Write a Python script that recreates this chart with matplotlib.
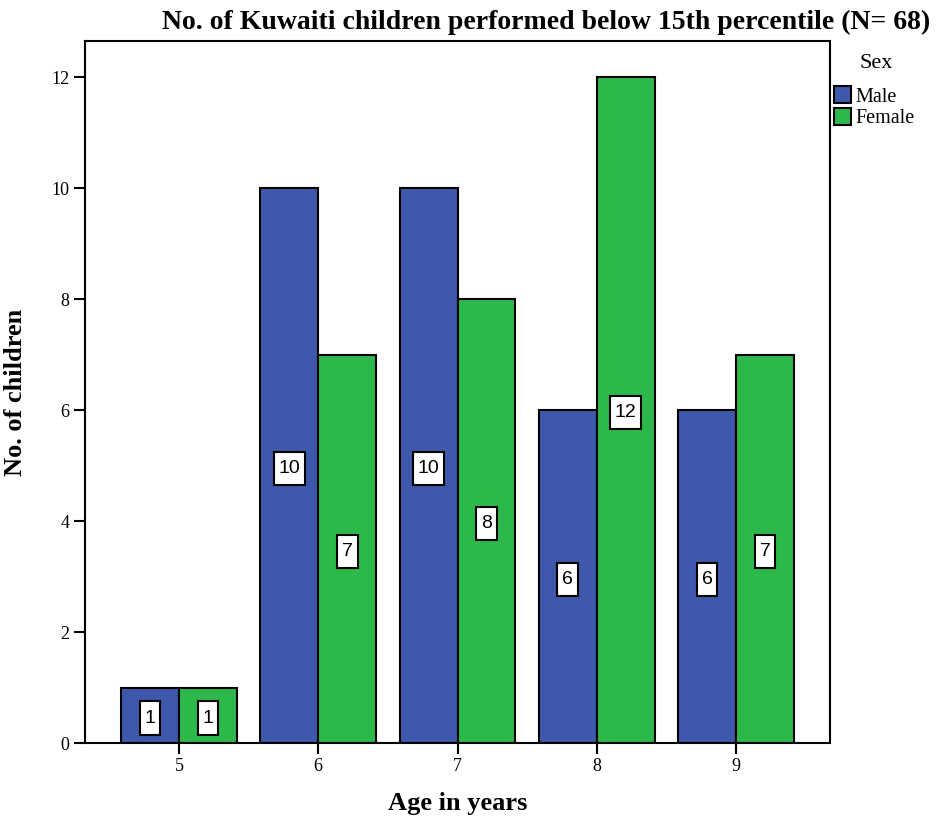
import matplotlib
matplotlib.use("Agg")
import matplotlib.pyplot as plt
import numpy as np
from matplotlib.patches import Patch
from matplotlib.path import Path

ages = [5, 6, 7, 8, 9]
male = [1, 10, 10, 6, 6]
female = [1, 7, 8, 12, 7]

blue = "#3e58ab"
green = "#2db84b"
serif = "Liberation Serif"
sans = "Liberation Sans"


def tall_box(x0, y0, width, height, mutation_size):
    """Rectangular label box with more padding above/below than at the sides."""
    px = 0.25 * mutation_size
    py = 0.42 * mutation_size
    x0, x1 = x0 - px, x0 + width + px
    y0, y1 = y0 - py, y0 + height + py
    return Path([(x0, y0), (x1, y0), (x1, y1), (x0, y1), (x0, y0)], closed=True)


fig = plt.figure(figsize=(9.38, 8.21), dpi=100)
ax = fig.add_axes([85 / 938, 78 / 821, 745 / 938, 702 / 821])

x = np.array(ages, dtype=float)
w = 0.416
bm = ax.bar(x - w / 2, male, width=w, color=blue, edgecolor="black", linewidth=1.5)
bf = ax.bar(x + w / 2, female, width=w, color=green, edgecolor="black", linewidth=1.5)

for bars, vals in ((bm, male), (bf, female)):
    for b, v in zip(bars, vals):
        ax.text(b.get_x() + b.get_width() / 2, v / 2 - 0.05, str(v), ha="center", va="center",
                fontsize=14, family=sans,
                bbox=dict(boxstyle=tall_box, facecolor="white", edgecolor="black", linewidth=1.5))

ax.set_xlim(4.325, 9.675)
ax.set_ylim(0, 12.65)
ax.set_xticks(ages)
ax.set_yticks([0, 2, 4, 6, 8, 10, 12])
for lab in ax.get_xticklabels() + ax.get_yticklabels():
    lab.set_family(serif)
    lab.set_fontsize(13)
ax.tick_params(axis="both", length=8, width=1.5, direction="out", pad=3)
for s in ax.spines.values():
    s.set_linewidth(1.5)

ax.set_xlabel("Age in years", family=serif, fontweight="bold", fontsize=19, labelpad=12)
ax.set_ylabel("No. of children", family=serif, fontweight="bold", fontsize=19, labelpad=18)

fig.text(930 / 938, 1 - 22 / 821, "No. of Kuwaiti children performed below 15th percentile (N= 68)",
         ha="right", va="center", family=serif, fontweight="bold", fontsize=20)

# legend title and entries
fig.text(876 / 938, 1 - 64 / 821, "Sex", ha="center", va="center", family=serif, fontsize=16)
handles = [Patch(facecolor=blue, edgecolor="black", linewidth=1.5, label="Male"),
           Patch(facecolor=green, edgecolor="black", linewidth=1.5, label="Female")]
leg = fig.legend(handles=handles, loc="upper left", bbox_to_anchor=(834 / 938, 1 - 86 / 821),
                 frameon=False, prop={"family": serif, "size": 14.5},
                 handlelength=0.85, handleheight=0.95, handletextpad=0.2, labelspacing=0.05,
                 borderaxespad=0, borderpad=0)

fig.savefig("out.png", dpi=100)
